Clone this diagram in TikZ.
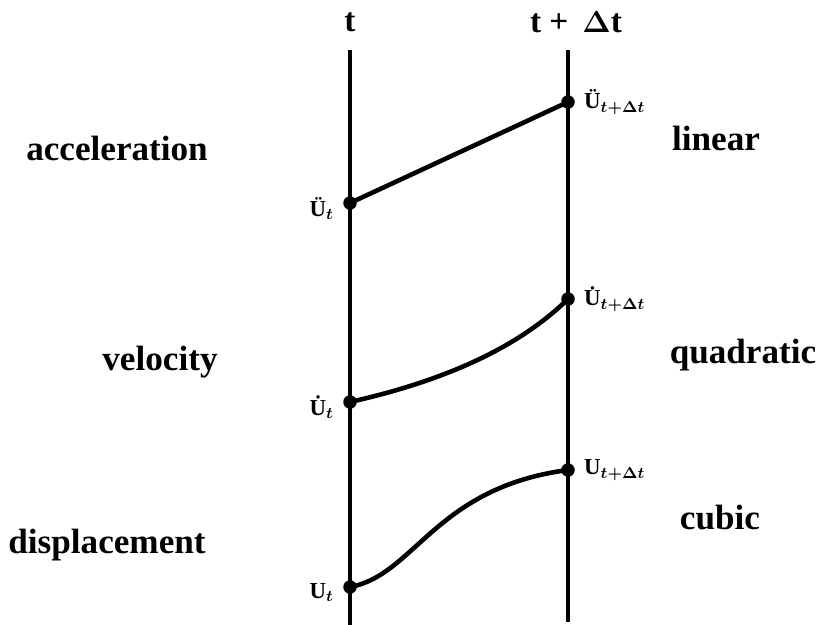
\documentclass[tikz,border=0pt]{standalone}
\usepackage{amsmath}
\usepackage{amssymb}
\usepackage{bm}
\usepackage{fontspec}
\setmainfont{Liberation Serif}
\usetikzlibrary{positioning}
\tikzset{
    timeline/.style={line width=2pt, black},
    curveline/.style={line width=2.6pt, black, line cap=round},
    dot/.style={circle, fill=black, inner sep=0pt, minimum size=0.27cm},
    ptlabel/.style={font=\fontsize{13}{14}\selectfont\bfseries, inner sep=1pt},
    quantity/.style={font=\fontsize{20}{24}\selectfont\bfseries},
    headlabel/.style={font=\fontsize{19}{22}\selectfont\bfseries}
}

\begin{document}
\begin{tikzpicture}
    \useasboundingbox (0,0) rectangle (16.5,-12.5);

    % Two time lines
    \coordinate (tTop) at (7.0,-1.0);
    \coordinate (tBot) at (7.0,-12.5);
    \coordinate (tdtTop) at (11.36,-1.0);
    \coordinate (tdtBot) at (11.36,-12.44);
    \draw[timeline] (tTop) -- (tBot);
    \draw[timeline] (tdtTop) -- (tdtBot);
    \node[headlabel] (headT) at (7.0,-0.44) {t};
    \node[headlabel] (headTdt) at (11.52,-0.44) {t +\, $\bm{\Delta}$t};

    % Points on the time lines
    \node[dot] (accT) at (7.0,-4.06) {};
    \node[dot] (accTdt) at (11.36,-2.04) {};
    \node[dot] (velT) at (7.0,-8.04) {};
    \node[dot] (velTdt) at (11.36,-5.98) {};
    \node[dot] (dispT) at (7.0,-11.74) {};
    \node[dot] (dispTdt) at (11.36,-9.4) {};

    \node[ptlabel, left=4pt of accT, yshift=-3pt] (accTlbl) {Ü$_{\bm{t}}$};
    \node[ptlabel, right=4pt of accTdt] (accTdtlbl) {Ü$_{\bm{t+\Delta t}}$};
    \node[ptlabel, left=4pt of velT, yshift=-3pt] (velTlbl) {\.U$_{\bm{t}}$};
    \node[ptlabel, right=4pt of velTdt] (velTdtlbl) {\.U$_{\bm{t+\Delta t}}$};
    \node[ptlabel, left=4pt of dispT, yshift=-3pt] (dispTlbl) {U$_{\bm{t}}$};
    \node[ptlabel, right=4pt of dispTdt] (dispTdtlbl) {U$_{\bm{t+\Delta t}}$};

    % Interpolation curves
    \draw[curveline] (accT) -- (accTdt);
    \draw[curveline] (velT.center) .. controls (8.96,-7.6) and (10.4,-6.92) .. (velTdt.center);
    \draw[curveline] (dispT.center) .. controls (8.3,-11.5) and (8.7,-9.75) .. (dispTdt.center);

    % Quantities and orders
    \node[quantity] (acc) at (2.34,-2.96) {acceleration};
    \node[quantity] (vel) at (3.2,-7.24) {velocity};
    \node[quantity] (disp) at (2.14,-10.9) {displacement};
    \node[quantity] (lin) at (14.32,-2.76) {linear};
    \node[quantity] (quad) at (14.86,-7.1) {quadratic};
    \node[quantity] (cub) at (14.4,-10.36) {cubic};
\end{tikzpicture}
\end{document}
